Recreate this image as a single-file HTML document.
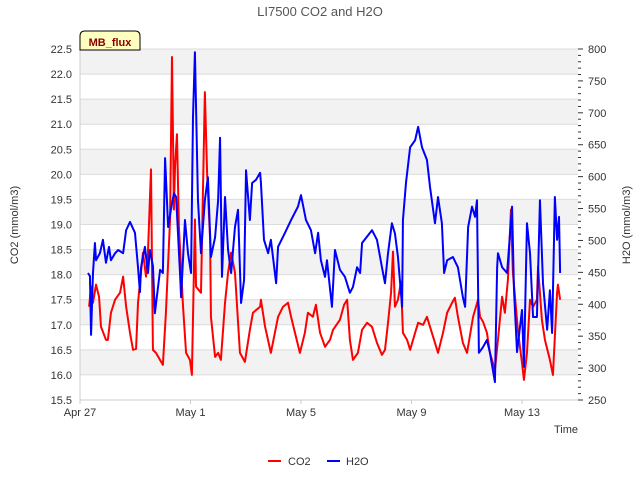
<!DOCTYPE html>
<html><head><meta charset="utf-8"><style>
body{margin:0;background:#fff;}
svg text{font-family:"Liberation Sans","DejaVu Sans",sans-serif;}
</style></head><body>
<svg id="chart" width="640" height="480" xmlns="http://www.w3.org/2000/svg">
<rect width="640" height="480" fill="#fff"/>
<g id="bands"></g>
<g id="grid"></g>
<g id="axes"></g>
<g id="series"></g>
<text x="320" y="16" text-anchor="middle" font-size="13" fill="#555">LI7500 CO2 and H2O</text>
<text transform="translate(18,225) rotate(-90)" text-anchor="middle" font-size="11" fill="#333">CO2 (mmol/m3)</text>
<text transform="translate(630,225) rotate(-90)" text-anchor="middle" font-size="11" fill="#333">H2O (mmol/m3)</text>
<text x="578" y="433" text-anchor="end" font-size="11" fill="#333">Time</text>
<g>
<path d="M80,50 L80,36 Q80,31 85,31 L135,31 Q140,31 140,36 L140,50 Z" fill="#ffffc0" stroke="#000" stroke-width="1"/>
<text x="110" y="46" text-anchor="middle" font-size="11" font-weight="bold" fill="#8b0000">MB_flux</text>
</g>
<g>
<line x1="268" y1="461" x2="281" y2="461" stroke="#f00" stroke-width="2"/>
<text x="288" y="465" font-size="11" fill="#333">CO2</text>
<line x1="327" y1="461" x2="340" y2="461" stroke="#00f" stroke-width="2"/>
<text x="346" y="465" font-size="11" fill="#333">H2O</text>
</g>
</svg>
<script>
const xTickLabels=["Apr 27","May 1","May 5","May 9","May 13"];
const xTickDays=[0,4,8,12,16];
const leftTicks=[15.5,16.0,16.5,17.0,17.5,18.0,18.5,19.0,19.5,20.0,20.5,21.0,21.5,22.0,22.5];
const rightTicks=[250,300,350,400,450,500,550,600,650,700,750,800];
const co2Days=[0.33,0.40,0.47,0.58,0.69,0.76,0.94,1.01,1.12,1.27,1.45,1.56,1.67,1.81,1.92,2.03,2.10,2.28,2.39,2.46,2.57,2.64,2.75,3.00,3.11,3.26,3.33,3.40,3.44,3.51,3.58,3.73,3.84,3.98,4.05,4.16,4.20,4.38,4.52,4.60,4.71,4.74,4.89,5.00,5.10,5.25,5.36,5.47,5.61,5.79,5.97,6.15,6.26,6.52,6.55,6.70,6.91,7.17,7.35,7.53,7.64,7.96,8.14,8.25,8.43,8.54,8.69,8.87,9.05,9.16,9.41,9.56,9.67,9.77,9.88,10.06,10.21,10.39,10.57,10.75,10.93,11.04,11.15,11.26,11.33,11.40,11.51,11.62,11.69,11.84,11.95,12.13,12.24,12.42,12.56,12.67,12.85,12.96,13.14,13.29,13.47,13.57,13.68,13.86,14.01,14.23,14.41,14.48,14.59,14.73,14.84,15.02,15.13,15.28,15.38,15.49,15.60,15.67,15.86,16.00,16.07,16.18,16.29,16.40,16.54,16.58,16.72,16.83,17.01,17.12,17.27,17.30,17.38];
const co2Values=[17.36,17.76,17.44,17.8,17.56,16.96,16.7,16.7,17.24,17.5,17.64,17.96,17.36,16.84,16.5,16.52,17.44,18.44,17.96,18.44,20.1,16.5,16.44,16.2,17.24,19.1,22.34,19.3,20.16,20.8,18.96,17.36,16.44,16.3,16.0,19.1,17.76,17.64,21.64,20.04,18.7,17.16,16.36,16.44,16.3,17.44,18.04,18.44,18.04,16.44,16.26,16.9,17.24,17.36,17.5,16.96,16.44,17.16,17.36,17.44,17.16,16.44,16.84,17.24,17.16,17.4,16.84,16.56,16.7,16.9,17.1,17.4,17.5,16.7,16.3,16.44,16.9,17.04,16.96,16.64,16.4,16.5,17.04,17.64,18.46,17.36,17.5,17.86,16.84,16.7,16.5,16.84,17.04,17.0,17.16,16.96,16.64,16.44,16.84,17.24,17.44,17.54,17.16,16.64,16.44,17.16,17.5,17.16,17.06,16.84,16.44,16.1,16.7,17.56,17.24,17.9,19.3,18.04,16.84,16.24,15.9,16.44,17.5,17.36,17.5,18.16,17.1,16.7,16.3,16.0,17.64,17.8,17.5];
const h2oDays=[0.29,0.36,0.40,0.47,0.54,0.58,0.72,0.83,0.94,1.05,1.12,1.27,1.38,1.56,1.67,1.81,1.99,2.10,2.17,2.21,2.35,2.46,2.53,2.64,2.71,2.90,3.00,3.08,3.19,3.29,3.40,3.48,3.62,3.66,3.80,3.91,4.02,4.09,4.16,4.27,4.38,4.52,4.63,4.74,4.89,5.00,5.07,5.14,5.25,5.36,5.47,5.61,5.72,5.83,5.94,6.01,6.15,6.23,6.37,6.52,6.55,6.66,6.81,6.91,7.10,7.17,7.42,7.64,7.89,8.00,8.18,8.36,8.51,8.62,8.72,8.87,8.94,9.12,9.23,9.41,9.59,9.77,9.88,10.03,10.14,10.21,10.39,10.57,10.75,10.93,11.04,11.15,11.29,11.40,11.51,11.66,11.69,11.80,11.95,12.13,12.24,12.38,12.56,12.67,12.85,12.96,13.10,13.18,13.29,13.50,13.68,13.86,13.94,14.05,14.19,14.30,14.37,14.44,14.59,14.73,14.84,15.02,15.10,15.13,15.28,15.46,15.64,15.71,15.82,16.00,16.07,16.18,16.29,16.40,16.54,16.65,16.76,16.91,17.01,17.09,17.19,17.27,17.34,17.38];
const h2oValues=[449,444,352,449,496,469,480,501,465,490,469,480,485,480,516,529,512,458,419,458,490,449,485,460,386,454,449,629,521,548,574,568,449,411,532,480,449,693,795,563,480,563,599,474,505,563,661,443,568,485,449,521,548,402,438,610,532,590,595,606,590,501,480,501,433,490,512,532,553,571,532,516,480,512,469,443,469,396,485,454,443,418,427,458,449,496,506,516,501,458,433,480,527,511,474,396,532,590,646,657,678,646,626,584,527,568,527,449,469,474,458,411,396,521,553,537,563,324,333,344,324,278,458,480,458,449,553,422,325,391,302,527,480,380,380,563,433,360,422,355,568,501,537,449];

const NS="http://www.w3.org/2000/svg";
const X0=80,X1=578,Y0=400,Y1=49;
const dayMax=(X1-X0)/27.625;
function xs(d){return X0+d/dayMax*(X1-X0);}
function yl(v){return Y0-(v-15.5)/7*(Y0-Y1);}
function yr(v){return Y0-(v-250)/550*(Y0-Y1);}
function mk(tag,attrs,parent){const e=document.createElementNS(NS,tag);for(const k in attrs)e.setAttribute(k,attrs[k]);parent.appendChild(e);return e;}
const bands=document.getElementById('bands'),grid=document.getElementById('grid'),axes=document.getElementById('axes'),series=document.getElementById('series');
for(let i=0;i<leftTicks.length-1;i++){
 if(i%2===1){const r=mk('rect',{x:X0,y:yl(leftTicks[i+1]),width:X1-X0,height:yl(leftTicks[i])-yl(leftTicks[i+1]),fill:'#f2f2f2'},bands);
 
 }
}
leftTicks.forEach(v=>{
 const l=mk('line',{x1:X0,x2:X1,y1:yl(v),y2:yl(v),stroke:'#dcdcdc','stroke-width':1},grid);
 
 
 const t=mk('text',{x:X0-8,y:yl(v)+4,'text-anchor':'end','font-size':11,fill:'#333'},axes);
 t.textContent=v.toFixed(1);
 
 
});
mk('line',{x1:X0,x2:X0,y1:Y1,y2:Y0,stroke:'#ccc'},axes);
mk('line',{x1:X0,x2:X1,y1:Y0,y2:Y0,stroke:'#ccc'},axes);
rightTicks.forEach(v=>{
 mk('line',{x1:X1,x2:X1+5,y1:yr(v),y2:yr(v),stroke:'#333'},axes);
 const t=mk('text',{x:X1+10,y:yr(v)+4,'font-size':11,fill:'#333'},axes);
 t.textContent=v;
 
 
});
for(let v=250;v<=800;v+=10){if(v%50)mk('line',{x1:X1,x2:X1+3,y1:yr(v),y2:yr(v),stroke:'#333'},axes);}
xTickDays.forEach((d,i)=>{
 mk('line',{x1:xs(d),x2:xs(d),y1:Y0,y2:Y0+4,stroke:'#ccc'},axes);
 const t=mk('text',{x:xs(d),y:Y0+16,'text-anchor':'middle','font-size':11,fill:'#333'},axes);
 t.textContent=xTickLabels[i];
 
 
});
const pc=mk('polyline',{points:co2Days.map((d,i)=>xs(d)+','+yl(co2Values[i])).join(' '),fill:'none',stroke:'#f00','stroke-width':2,'stroke-linejoin':'round'},series);


const ph=mk('polyline',{points:h2oDays.map((d,i)=>xs(d)+','+yr(h2oValues[i])).join(' '),fill:'none',stroke:'#00f','stroke-width':2,'stroke-linejoin':'round'},series);


</script>
</body></html>
